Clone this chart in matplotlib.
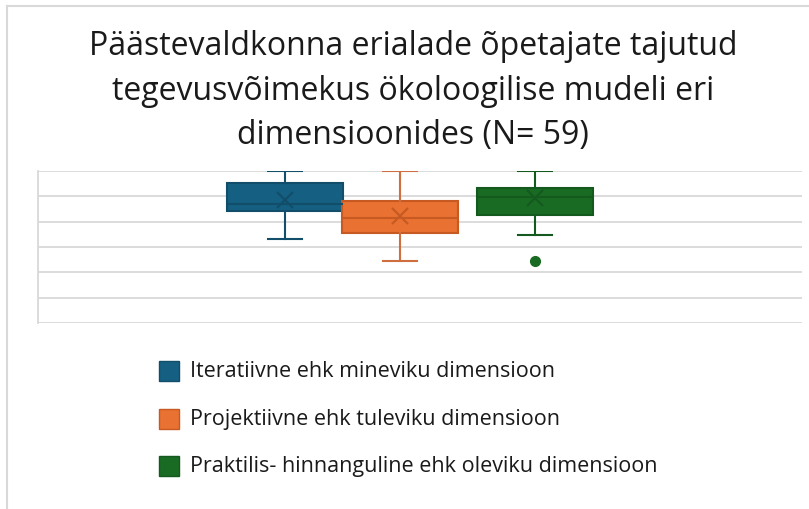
import matplotlib.pyplot as plt
from matplotlib.lines import Line2D
from matplotlib.patches import Rectangle

# box plot summaries (scale 2..5)
labels = ["Iteratiivne ehk mineviku dimensioon",
          "Projektiivne ehk tuleviku dimensioon",
          "Praktilis- hinnanguline ehk oleviku dimensioon"]
whisker_lo = [3.65, 3.23, 3.73]
q1 = [4.22, 3.77, 4.14]
medians = [4.34, 4.07, 4.49]
q3 = [4.76, 4.41, 4.67]
whisker_hi = [5.0, 5.0, 5.0]
means = [4.43, 4.11, 4.46]
outliers = [[], [], [3.23]]

fill_colors = ["#156082", "#E97132", "#196B24"]
edge_colors = ["#124E6A", "#C65A22", "#145A1E"]
whisker_colors = ["#134F6B", "#CF6E3E", "#145A1E"]

title = "Päästevaldkonna erialade õpetajate tajutud\ntegevusvõimekus ökoloogilise mudeli eri\ndimensioonides (N= 59)"

W, H = 809, 510
fig = plt.figure(figsize=(W / 100, H / 100), dpi=100)
plt.rcParams['font.family'] = ['Open Sans', 'DejaVu Sans']

ax = fig.add_axes([38 / W, 1 - 324 / H, (802 - 38) / W, (324 - 172) / H])
ax.set_xlim(0, 764)
ax.set_ylim(2, 5)
ax.set_yticks([2, 2.5, 3, 3.5, 4, 4.5, 5])
ax.yaxis.grid(True, color="#d9d9d9", linewidth=1.3)
ax.set_axisbelow(True)
ax.tick_params(left=False, bottom=False, labelleft=False, labelbottom=False)
for s in ["top", "right", "bottom"]:
    ax.spines[s].set_visible(False)
ax.spines["left"].set_color("#d9d9d9")
ax.spines["left"].set_linewidth(1.3)

positions = [247, 362, 497]
box_w = 116
for i in range(3):
    stats = [{
        "whislo": whisker_lo[i], "q1": q1[i], "med": medians[i],
        "q3": q3[i], "whishi": whisker_hi[i], "mean": means[i],
        "fliers": outliers[i],
    }]
    ax.bxp(stats, positions=[positions[i]], widths=box_w,
           patch_artist=True, showmeans=True, capwidths=34,
           boxprops=dict(facecolor=fill_colors[i], edgecolor=edge_colors[i], linewidth=1.5),
           medianprops=dict(color=edge_colors[i], linewidth=1.5),
           whiskerprops=dict(color=whisker_colors[i], linewidth=1.5),
           capprops=dict(color=whisker_colors[i], linewidth=1.5),
           meanprops=dict(marker="x", markeredgecolor=edge_colors[i],
                          markersize=11, markeredgewidth=1.6),
           flierprops=dict(marker="o", markerfacecolor=fill_colors[i],
                           markeredgecolor=fill_colors[i], markersize=7))

# chart title
fig.text(413 / W, 1 - 91 / H, title, ha="center", va="center",
         fontsize=23, color="#1a1a1a", linespacing=1.45)

# legend
for i, lab in enumerate(labels):
    yc = 372 + i * 47.5
    fig.add_artist(Rectangle((159 / W, 1 - (yc + 10) / H), 20 / W, 20 / H,
                             transform=fig.transFigure, facecolor=fill_colors[i],
                             edgecolor=edge_colors[i], linewidth=1))
    fig.text(190 / W, 1 - yc / H, lab, ha="left", va="center",
             fontsize=15.5, color="#1a1a1a")

# outer chart frame (partly visible)
fig.add_artist(Line2D([7 / W, 7 / W], [0, 1 - 7 / H], color="#d9d9d9", linewidth=1.5))
fig.add_artist(Line2D([7 / W, 1], [1 - 7 / H, 1 - 7 / H], color="#d9d9d9", linewidth=1.5))

fig.savefig("out.png", dpi=100)
